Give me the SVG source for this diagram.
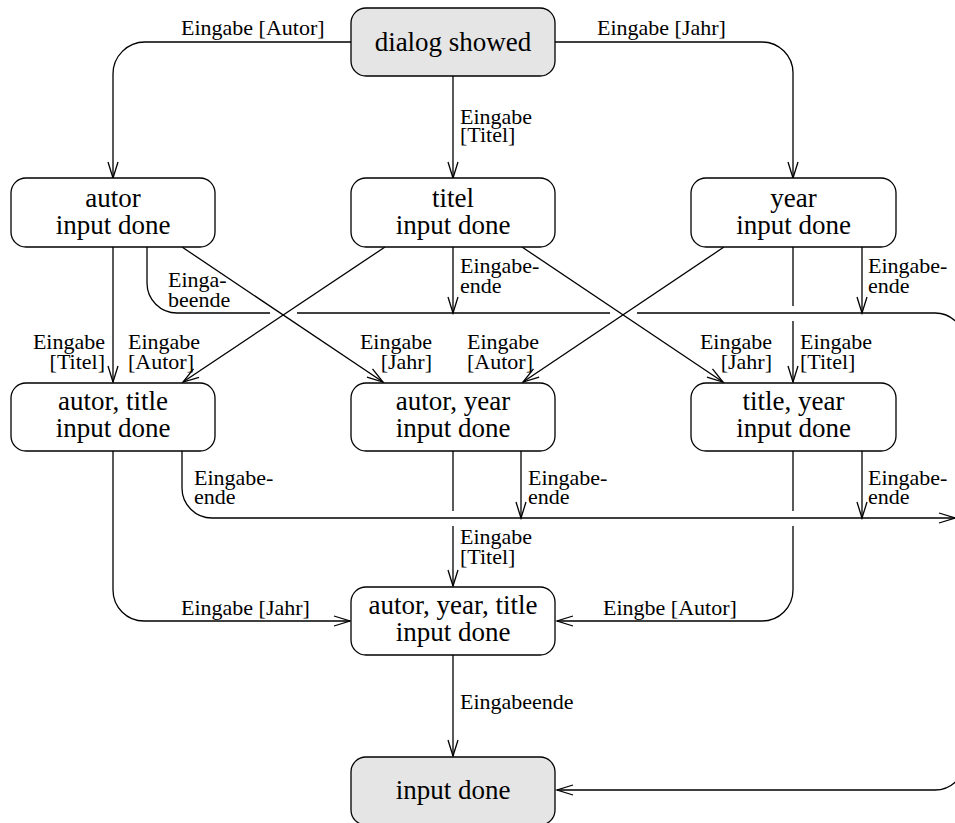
<svg xmlns="http://www.w3.org/2000/svg" width="955" height="823" viewBox="0 0 955 823">
<style>
.box{fill:#fff;stroke:#000;stroke-width:1.3}
.grey{fill:#e5e5e5}
.nt{font-family:"Liberation Serif","Times New Roman",serif;font-size:27px;fill:#000;text-anchor:middle}
.lb{font-family:"Liberation Serif","Times New Roman",serif;font-size:22px;fill:#000}
.e{text-anchor:end}
.c{fill:none;stroke:#000;stroke-width:1.3}
.ar{marker-end:url(#arr)}
</style>
<defs>
<marker id="arr" markerWidth="17" markerHeight="12" refX="16" refY="5" orient="auto" markerUnits="userSpaceOnUse" overflow="visible">
<path d="M0,0 L16,5 L0,10" fill="none" stroke="#000" stroke-width="1.3"/>
</marker>
</defs>
<rect width="955" height="823" fill="#fff"/>
<g id="connectors">
<path class="c ar" d="M351,42 H145 A32,32 0 0 0 113,74 V178"/>
<path class="c ar" d="M555,42 H762 A31,31 0 0 1 793,73 V178"/>
<path class="c ar" d="M453,76 V178"/>
<path class="c ar" d="M113,247 V382"/>
<path class="c" d="M147,247 V283 A30,30 0 0 0 177,313 H270"/>
<path class="c" d="M297,313 H610"/>
<path class="c" d="M637,313 H935 A30,30 0 0 1 965,343 V760 A30,30 0 0 1 935,790 H557" marker-end="url(#arr)"/>
<path class="c ar" d="M182,247 L383,382"/>
<path class="c ar" d="M385,247 L183,382"/>
<path class="c ar" d="M522,247 L723,382"/>
<path class="c ar" d="M724,247 L523,382"/>
<path class="c ar" d="M453,247 V313"/>
<path class="c" d="M793,247 V306"/>
<path class="c ar" d="M793,321 V382"/>
<path class="c ar" d="M862,247 V313"/>
<path class="c ar" d="M113,451 V590 A31,31 0 0 0 144,621 H350"/>
<path class="c ar" d="M182,451 V488 A30,30 0 0 0 212,518 H955"/>
<path class="c" d="M453,451 V511"/>
<path class="c ar" d="M453,526 V586"/>
<path class="c ar" d="M521,451 V518"/>
<path class="c" d="M793,451 V511"/>
<path class="c ar" d="M793,526 V590 A31,31 0 0 1 762,621 H557"/>
<path class="c ar" d="M862,451 V518"/>
<path class="c ar" d="M453,655 V756"/>
</g>
<g id="labels">
<text class="lb" x="181" y="35">Eingabe [Autor]</text>
<text class="lb" x="597" y="35">Eingabe [Jahr]</text>
<text class="lb" x="460" y="124">Eingabe<tspan x="460" dy="18">[Titel]</tspan></text>
<text class="lb" x="168" y="287">Einga-<tspan x="168" dy="20">beende</tspan></text>
<text class="lb" x="460" y="273">Eingabe-<tspan x="460" dy="20">ende</tspan></text>
<text class="lb" x="868" y="273">Eingabe-<tspan x="868" dy="20">ende</tspan></text>
<text class="lb e" x="105" y="349">Eingabe<tspan x="105" dy="20">[Titel]</tspan></text>
<text class="lb" x="128" y="349">Eingabe<tspan x="128" dy="20">[Autor]</tspan></text>
<text class="lb e" x="432" y="349">Eingabe<tspan x="432" dy="20">[Jahr]</tspan></text>
<text class="lb" x="467" y="349">Eingabe<tspan x="467" dy="20">[Autor]</tspan></text>
<text class="lb e" x="772" y="349">Eingabe<tspan x="772" dy="20">[Jahr]</tspan></text>
<text class="lb" x="800" y="349">Eingabe<tspan x="800" dy="20">[Titel]</tspan></text>
<text class="lb" x="194" y="485">Eingabe-<tspan x="194" dy="19">ende</tspan></text>
<text class="lb" x="528" y="485">Eingabe-<tspan x="528" dy="19">ende</tspan></text>
<text class="lb" x="868" y="485">Eingabe-<tspan x="868" dy="19">ende</tspan></text>
<text class="lb" x="460" y="544">Eingabe<tspan x="460" dy="20">[Titel]</tspan></text>
<text class="lb" x="181" y="615">Eingabe [Jahr]</text>
<text class="lb" x="603" y="615">Eingbe [Autor]</text>
<text class="lb" x="460" y="709">Eingabeende</text>
</g>
<g id="dialog-showed">
<rect class="box grey" x="351" y="8" width="204" height="68" rx="15"/>
<text class="nt" x="453" y="51">dialog showed</text>
</g>
<g id="autor-input-done">
<rect class="box" x="11" y="178" width="204" height="69" rx="15"/>
<text class="nt" x="113" y="207">autor<tspan x="113" dy="27">input done</tspan></text>
</g>
<g id="titel-input-done">
<rect class="box" x="351" y="178" width="204" height="69" rx="15"/>
<text class="nt" x="453" y="207">titel<tspan x="453" dy="27">input done</tspan></text>
</g>
<g id="year-input-done">
<rect class="box" x="691" y="178" width="205" height="69" rx="15"/>
<text class="nt" x="793.5" y="207">year<tspan x="793.5" dy="27">input done</tspan></text>
</g>
<g id="autor-title-input-done">
<rect class="box" x="11" y="383" width="204" height="68" rx="15"/>
<text class="nt" x="113" y="410">autor, title<tspan x="113" dy="27">input done</tspan></text>
</g>
<g id="autor-year-input-done">
<rect class="box" x="351" y="383" width="204" height="68" rx="15"/>
<text class="nt" x="453" y="410">autor, year<tspan x="453" dy="27">input done</tspan></text>
</g>
<g id="title-year-input-done">
<rect class="box" x="691" y="383" width="205" height="68" rx="15"/>
<text class="nt" x="793.5" y="410">title, year<tspan x="793.5" dy="27">input done</tspan></text>
</g>
<g id="autor-year-title-input-done">
<rect class="box" x="351" y="587" width="204" height="68" rx="15"/>
<text class="nt" x="453" y="614">autor, year, title<tspan x="453" dy="27">input done</tspan></text>
</g>
<g id="input-done">
<rect class="box grey" x="351" y="757" width="204" height="68" rx="15"/>
<text class="nt" x="453" y="799">input done</text>
</g>
</svg>
